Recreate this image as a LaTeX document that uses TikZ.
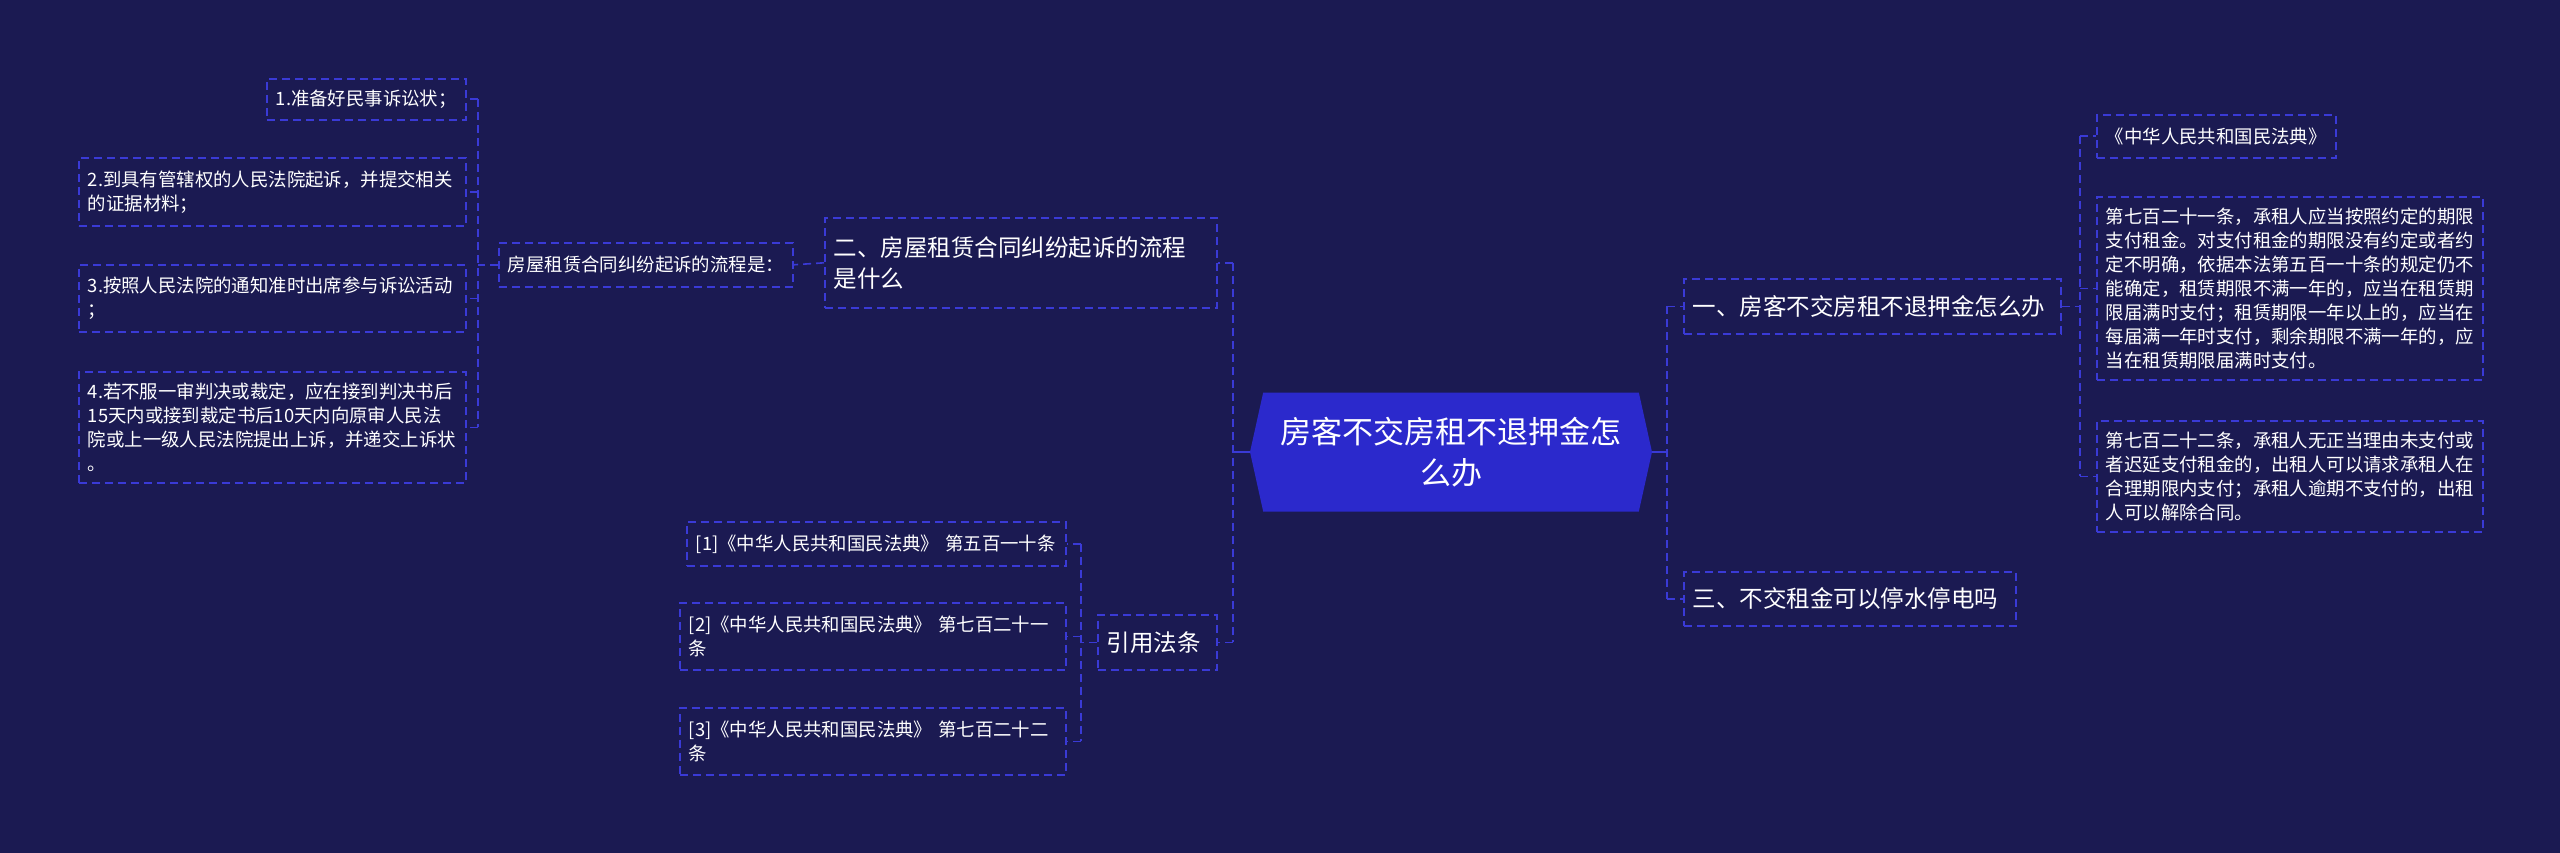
\documentclass[tikz,border=0pt]{standalone}
\usepackage{fontspec}
\setmainfont{Noto Sans CJK SC}
\usetikzlibrary{shapes.symbols}
\definecolor{bgc}{HTML}{1B1A52}
\definecolor{bcol}{HTML}{3A3AD6}
\definecolor{hexc}{HTML}{2B29CC}
\begin{document}
\begin{tikzpicture}[x=1pt,y=-1pt,
  box/.style={draw=bcol, dash pattern=on 8pt off 5pt, line width=1.6pt, text=white, anchor=north west, align=left, inner xsep=9pt, inner ysep=0pt},
  sm/.style={font=\fontsize{18.4}{24}\selectfont},
  md/.style={font=\fontsize{23.5}{31}\selectfont},
  conn/.style={draw=bcol, dash pattern=on 8pt off 5pt, line width=1.6pt},
  hexa/.style={shape=signal, signal to=west and east, signal pointer angle=155, fill=hexc, text=white, align=center, font=\fontsize{31}{41}\selectfont, minimum width=402pt, minimum height=119pt, inner sep=0pt}
]
\fill[bgc] (0,0) rectangle (2560,853);
\useasboundingbox (0,0) rectangle (2560,853);

% centre
\node[hexa] (c) at (1451,452) {房客不交房租不退押金怎\\么办};

% left branch 1
\node[box, md, text width=374pt, minimum height=90pt] (n2) at (824,217) {二、房屋租赁合同纠纷起诉的流程\\是什么};
\node[box, sm, text width=276pt, minimum height=44pt] (p) at (498,242) {房屋租赁合同纠纷起诉的流程是：};
\node[box, sm, text width=181pt, minimum height=41pt] (l1) at (266,78) {1.准备好民事诉讼状；};
\node[box, sm, text width=369pt, minimum height=68pt] (l2) at (78,157) {2.到具有管辖权的人民法院起诉，并提交相关\\的证据材料；};
\node[box, sm, text width=369pt, minimum height=67pt] (l3) at (78,264) {3.按照人民法院的通知准时出席参与诉讼活动\\；};
\node[box, sm, text width=369pt, minimum height=111pt] (l4) at (78,371) {4.若不服一审判决或裁定，应在接到判决书后\\15天内或接到裁定书后10天内向原审人民法\\院或上一级人民法院提出上诉，并递交上诉状\\。};

% left branch 2
\node[box, md, text width=101pt, minimum height=55pt] (cite) at (1097,614) {引用法条};
\node[box, sm, text width=361pt, minimum height=44pt] (c1) at (686,521) {[1]《中华人民共和国民法典》~第五百一十条};
\node[box, sm, text width=368pt, minimum height=67pt] (c2) at (679,602) {[2]《中华人民共和国民法典》~第七百二十一\\条};
\node[box, sm, text width=368pt, minimum height=67pt] (c3) at (679,707) {[3]《中华人民共和国民法典》~第七百二十二\\条};

% right branch
\node[box, md, text width=359pt, minimum height=55pt] (n1) at (1683,278) {一、房客不交房租不退押金怎么办};
\node[box, md, text width=314pt, minimum height=54pt] (n3) at (1683,571) {三、不交租金可以停水停电吗};
\node[box, sm, text width=221pt, minimum height=43pt] (r0) at (2096,114) {《中华人民共和国民法典》};
\node[box, sm, text width=368pt, minimum height=183pt] (r1) at (2096,196) {第七百二十一条，承租人应当按照约定的期限\\支付租金。对支付租金的期限没有约定或者约\\定不明确，依据本法第五百一十条的规定仍不\\能确定，租赁期限不满一年的，应当在租赁期\\限届满时支付；租赁期限一年以上的，应当在\\每届满一年时支付，剩余期限不满一年的，应\\当在租赁期限届满时支付。};
\node[box, sm, text width=368pt, minimum height=111pt] (r2) at (2096,420) {第七百二十二条，承租人无正当理由未支付或\\者迟延支付租金的，出租人可以请求承租人在\\合理期限内支付；承租人逾期不支付的，出租\\人可以解除合同。};

% trunk coordinates
\coordinate (tc) at (1233,452);
\coordinate (tr) at (1667,452);
\coordinate (tp) at (478,264);
\coordinate (tq) at (1081,641);
\coordinate (ts) at (2080,305);

% centre connectors
\draw[bcol, line width=2.2pt] (c.west) -- (tc |- c.west);
\draw[bcol, line width=2.2pt] (c.east) -- (tr |- c.east);
\draw[conn] (tc |- n2.east) -- (tc |- cite.east);
\draw[conn] (tc |- n2.east) -- (n2.east);
\draw[conn] (tc |- cite.east) -- (cite.east);
\draw[conn] (tr |- n1.west) -- (tr |- n3.west);
\draw[conn] (tr |- n1.west) -- (n1.west);
\draw[conn] (tr |- n3.west) -- (n3.west);

% branch 二
\draw[conn] (n2.west) -- (p.east);
\draw[conn] (p.west) -- (tp |- p.west);
\draw[conn] (tp |- l1.east) -- (tp |- l4.east);
\draw[conn] (tp |- l1.east) -- (l1.east);
\draw[conn] (tp |- l2.east) -- (l2.east);
\draw[conn] (tp |- l3.east) -- (l3.east);
\draw[conn] (tp |- l4.east) -- (l4.east);

% branch 引用法条
\draw[conn] (cite.west) -- (tq |- cite.west);
\draw[conn] (tq |- c1.east) -- (tq |- c3.east);
\draw[conn] (tq |- c1.east) -- (c1.east);
\draw[conn] (tq |- c2.east) -- (c2.east);
\draw[conn] (tq |- c3.east) -- (c3.east);

% branch 一
\draw[conn] (n1.east) -- (ts |- n1.east);
\draw[conn] (ts |- r0.west) -- (ts |- r2.west);
\draw[conn] (ts |- r0.west) -- (r0.west);
\draw[conn] (ts |- r1.west) -- (r1.west);
\draw[conn] (ts |- r2.west) -- (r2.west);
\end{tikzpicture}
\end{document}
